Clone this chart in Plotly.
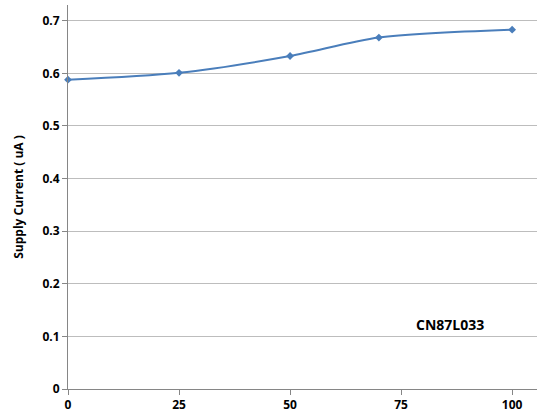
import plotly.graph_objects as go

temps = [0, 25, 50, 70, 100]
current = [0.588, 0.601, 0.633, 0.668, 0.683]
x_ticks = [0, 25, 50, 75, 100]
y_ticks = [0, 0.1, 0.2, 0.3, 0.4, 0.5, 0.6, 0.7]
y_labels = ["0", "0.1", "0.2", "0.3", "0.4", "0.5", "0.6", "0.7"]

fig = go.Figure()
fig.add_trace(go.Scatter(
    x=temps, y=current, mode="lines+markers",
    line=dict(color="#4a7ebb", width=2, shape="spline", smoothing=0.8),
    marker=dict(symbol="diamond", size=6, color="#4a7ebb"),
    cliponaxis=False,
    showlegend=False,
))

font = dict(family="Open Sans, Lato, sans-serif", size=12, color="#000000")
fig.update_layout(
    width=537, height=415,
    margin=dict(l=68, r=0, t=5, b=26),
    paper_bgcolor="white", plot_bgcolor="white",
    font=font,
    xaxis=dict(
        range=[0, 105.6], tickvals=x_ticks, ticktext=[f"<b>{v}</b>" for v in x_ticks],
        showgrid=False, zeroline=False, showline=True, linecolor="#868686", linewidth=1,
        ticks="outside", ticklen=5, tickcolor="#868686", tickfont=dict(size=12),
    ),
    yaxis=dict(
        range=[0, 0.730], tickvals=y_ticks, ticktext=[f"<b>{t}</b>" for t in y_labels],
        showgrid=True, gridcolor="#bdbdbd", gridwidth=1, zeroline=False,
        showline=True, linecolor="#868686", linewidth=1,
        ticks="outside", ticklen=5, tickcolor="#868686", tickfont=dict(size=12),
        title=dict(text="<b>Supply Current ( uA )</b>", font=dict(size=12), standoff=16),
    ),
    annotations=[dict(
        x=86, y=0.1, xref="x", yref="y", text="<b>CN87L033</b>",
        showarrow=False, font=dict(size=14, color="#000000"), yanchor="bottom",
    )],
)

fig.write_html("out.html", config={"displayModeBar": False},
               post_script="document.body.style.margin='0';document.body.style.overflow='hidden';")
